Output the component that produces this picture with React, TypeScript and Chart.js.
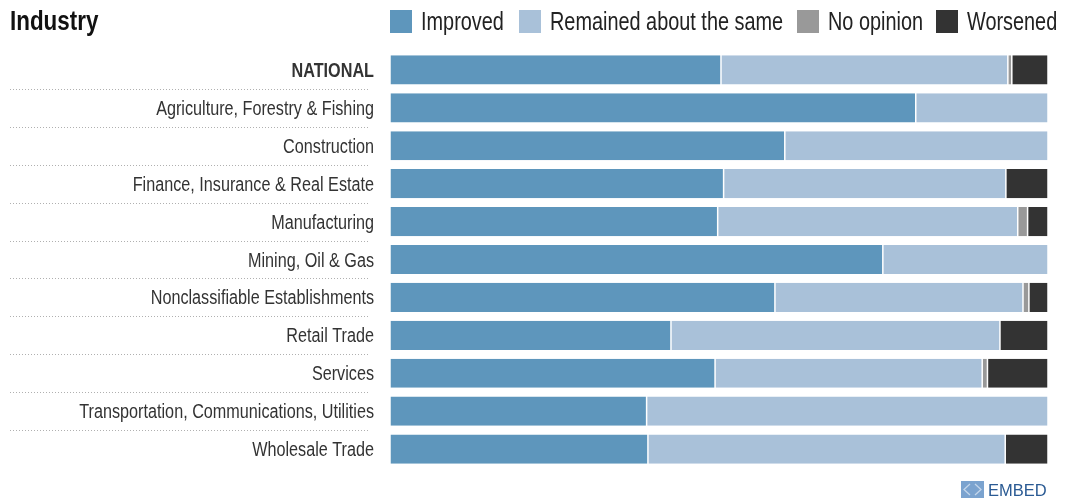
import { useEffect, useRef } from "react";
import { Chart, registerables } from "chart.js";

Chart.register(...registerables);

const industries = [
  "NATIONAL",
  "Agriculture, Forestry & Fishing",
  "Construction",
  "Finance, Insurance & Real Estate",
  "Manufacturing",
  "Mining, Oil & Gas",
  "Nonclassifiable Establishments",
  "Retail Trade",
  "Services",
  "Transportation, Communications, Utilities",
  "Wholesale Trade",
];
const improved = [50.3, 79.9, 60.0, 50.7, 49.8, 74.9, 58.5, 42.7, 49.4, 39.0, 39.2];
const remained = [43.6, 20.1, 40.0, 42.9, 45.6, 25.1, 37.7, 50.0, 40.6, 61.0, 54.3];
const noOpinion = [0.6, 0, 0, 0, 1.5, 0, 0.9, 0, 0.8, 0, 0];
const worsened = [5.5, 0, 0, 6.4, 3.1, 0, 2.9, 7.3, 9.2, 0, 6.5];

const seriesNames = ["Improved", "Remained about the same", "No opinion", "Worsened"];
const seriesColors = ["#5e96bc", "#a9c1d9", "#999999", "#333333"];
const seriesValues = [improved, remained, noOpinion, worsened];

const legendLefts = [390, 519, 797, 936];
const fontFamily = '"Liberation Sans", Arial, sans-serif';
const condense = 0.81;
const legendCondense = 0.795;
const titleCondense = 0.83;
const labelRight = 374;

// Dotted rules between the category labels, left of the bars.
const rowRules = {
  id: "rowRules",
  beforeDatasetsDraw(chart: Chart) {
    const { ctx, scales } = chart;
    const y = scales.y;
    ctx.save();
    ctx.strokeStyle = "#b0b0b0";
    ctx.lineWidth = 1;
    ctx.setLineDash([1, 2]);
    for (let i = 0; i < industries.length - 1; i++) {
      const py = Math.round((y.getPixelForValue(i) + y.getPixelForValue(i + 1)) / 2) + 0.5;
      ctx.beginPath();
      ctx.moveTo(10, py);
      ctx.lineTo(370, py);
      ctx.stroke();
    }
    ctx.restore();
  },
};

// The category labels are set narrower than the installed sans, so the
// scale's own label drawing runs inside a horizontal squeeze.
const condensedLabels = {
  id: "condensedLabels",
  afterLayout(chart: Chart) {
    const y: any = chart.scales.y;
    if (y.__condensed) return;
    y.__condensed = true;
    const draw = y.drawLabels;
    y.drawLabels = function (area: any) {
      const { ctx } = chart;
      ctx.save();
      ctx.translate(labelRight, 1.5);
      ctx.scale(condense, 1);
      ctx.translate(-labelRight, 0);
      draw.call(this, area);
      ctx.restore();
    };
  },
};

export default function App() {
  const canvasRef = useRef<HTMLCanvasElement>(null);

  useEffect(() => {
    document.body.style.margin = "0";
    const chart = new Chart(canvasRef.current!, {
      type: "bar",
      data: {
        labels: industries,
        datasets: seriesNames.map((label, i) => ({
          label,
          data: seriesValues[i],
          backgroundColor: seriesColors[i],
          borderColor: "#ffffff",
          borderWidth: { left: 0.75, right: 0.75, top: 0, bottom: 0 },
          borderSkipped: false,
          barPercentage: 0.77,
          categoryPercentage: 1,
        })),
      },
      plugins: [rowRules, condensedLabels],
      options: {
        indexAxis: "y",
        animation: false,
        responsive: false,
        layout: { padding: { left: 0, right: 27, top: 51, bottom: 32 } },
        plugins: { legend: { display: false }, title: { display: false }, tooltip: { enabled: false } },
        scales: {
          x: { stacked: true, min: 0, max: 100, display: false },
          y: {
            stacked: true,
            afterFit(scale: any) {
              scale.width = 390;
            },
            grid: { display: false, drawTicks: false },
            border: { display: false },
            ticks: {
              padding: 16,
              color: "#333333",
              autoSkip: false,
              font: (ctx: any) => ({
                family: fontFamily,
                size: 20,
                weight: ctx.index === 0 ? "bold" : "normal",
              }),
            },
          },
        },
      },
    });
    return () => chart.destroy();
  }, []);

  const squeeze = (k: number) => ({
    transform: `scaleX(${k})`,
    transformOrigin: "left center",
    whiteSpace: "nowrap" as const,
  });

  return (
    <div style={{ position: "relative", width: 1075, height: 500, overflow: "hidden", fontFamily, background: "#fff" }}>
      <canvas ref={canvasRef} width={1075} height={500} style={{ position: "absolute", left: 0, top: 0 }} />
      <div style={{ position: "absolute", left: 10, top: 5, fontSize: 27, fontWeight: "bold", color: "#111", lineHeight: "32px", ...squeeze(titleCondense) }}>
        Industry
      </div>
      {seriesNames.map((name, i) => (
        <div key={name}>
          <span style={{ position: "absolute", left: legendLefts[i], top: 10, width: 22, height: 23, background: seriesColors[i] }} />
          <span style={{ position: "absolute", left: legendLefts[i] + 30.5, top: 6, fontSize: 25, lineHeight: "30px", color: "#222", ...squeeze(legendCondense) }}>
            {name}
          </span>
        </div>
      ))}
      <svg width={23} height={17} style={{ position: "absolute", left: 961, top: 481 }}>
        <rect width={23} height={17} fill="#7ba3cf" />
        <path d="M9 3 L3 8.5 L9 14 M14 3 L20 8.5 L14 14" fill="none" stroke="#c4d6ea" strokeWidth={1.3} />
      </svg>
      <span style={{ position: "absolute", left: 988, top: 480, fontSize: 16.5, lineHeight: "20px", color: "#2a5a93" }}>EMBED</span>
    </div>
  );
}
